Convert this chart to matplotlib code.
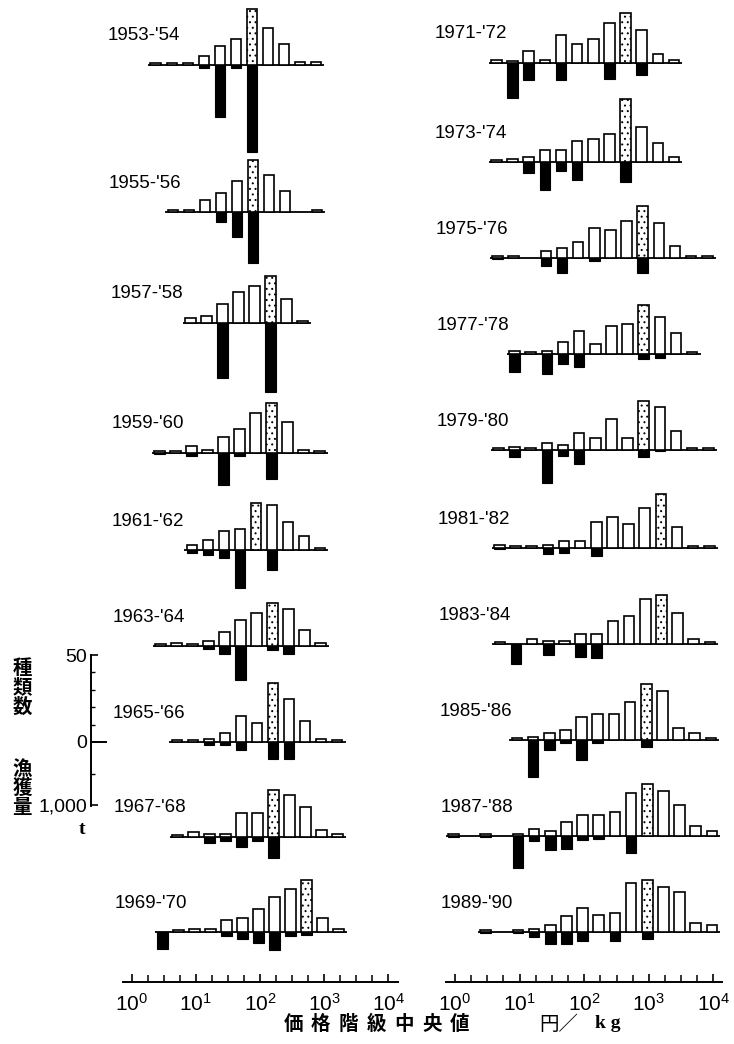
import matplotlib
matplotlib.use("Agg")
import matplotlib.pyplot as plt
from matplotlib.ticker import FixedLocator, NullFormatter, LogFormatterSciNotation

plt.rcParams['font.family'] = ['Liberation Sans', 'DejaVu Sans']
plt.rcParams['mathtext.fontset'] = 'custom'
plt.rcParams['mathtext.rm'] = 'Liberation Sans'
plt.rcParams['mathtext.it'] = 'Liberation Sans'
plt.rcParams['hatch.linewidth'] = 0.7
plt.rcParams['hatch.color'] = 'black'

# ---------------- data ----------------
periods = ["1953-'54", "1955-'56", "1957-'58", "1959-'60", "1961-'62", "1963-'64",
           "1965-'66", "1967-'68", "1969-'70",
           "1971-'72", "1973-'74", "1975-'76", "1977-'78", "1979-'80", "1981-'82",
           "1983-'84", "1985-'86", "1987-'88", "1989-'90"]

# price class k has centre 10**(0.125 + 0.25*k) yen/kg (quarter-decade classes)
first_class = [1, 2, 3, 1, 3, 1, 2, 2, 1,
               2, 2, 2, 3, 2, 2, 2, 3, -1, 1]

# number of species per price class (upper bars)
species = [
    [1, 1, 1, 5, 11, 15, 32, 21, 12, 2, 2],
    [1, 1, 7, 11, 18, 30, 21, 12, 0, 1],
    [3, 4, 11, 18, 21, 27, 14, 1],
    [1, 1, 4, 2, 9, 14, 23, 29, 18, 2, 1],
    [3, 6, 11, 12, 27, 26, 16, 8, 1],
    [1, 2, 1, 3, 8, 15, 19, 25, 21, 9, 2],
    [1, 1, 2, 5, 15, 11, 34, 25, 12, 2, 1],
    [1, 3, 2, 2, 14, 14, 27, 24, 17, 4, 2],
    [0, 1, 2, 2, 7, 8, 13, 20, 25, 30, 8, 2],
    [2, 1, 7, 2, 16, 11, 14, 23, 29, 19, 5, 2],
    [1, 2, 3, 7, 7, 12, 13, 16, 36, 20, 11, 3],
    [1, 1, 0, 4, 6, 9, 17, 16, 21, 30, 20, 7, 1, 1],
    [2, 1, 2, 7, 13, 6, 16, 17, 28, 21, 12, 1],
    [1, 2, 1, 4, 3, 10, 7, 18, 7, 28, 25, 11, 1, 1],
    [2, 1, 1, 2, 4, 4, 15, 18, 14, 23, 31, 12, 1, 1],
    [1, 0, 3, 2, 2, 6, 6, 13, 16, 26, 28, 18, 3, 1],
    [1, 2, 4, 6, 13, 15, 15, 22, 32, 28, 7, 4, 1],
    [1, 0, 1, 0, 1, 4, 3, 8, 12, 12, 14, 25, 30, 26, 18, 6, 3],
    [1, 0, 1, 2, 4, 9, 14, 10, 11, 28, 30, 26, 23, 5, 4],
]

# catch (t) per price class (lower black bars)
catch_t = [
    [0, 0, 0, 50, 820, 50, 1380, 0, 0, 0, 0],
    [0, 0, 0, 160, 400, 810, 0, 0, 0, 0],
    [0, 0, 875, 0, 0, 1090, 0, 0],
    [10, 0, 50, 0, 500, 40, 0, 410, 0, 0, 0],
    [50, 80, 130, 610, 0, 320, 0, 0, 0],
    [0, 0, 0, 50, 120, 540, 0, 65, 120, 0, 0],
    [0, 0, 50, 50, 120, 0, 265, 265, 0, 0, 0],
    [0, 0, 90, 70, 160, 70, 340, 0, 0, 0, 0],
    [275, 0, 0, 0, 70, 105, 175, 280, 70, 55, 0, 0],
    [0, 550, 275, 0, 265, 0, 0, 250, 0, 195, 0, 0],
    [0, 0, 170, 450, 145, 290, 0, 0, 320, 0, 0, 0],
    [10, 0, 0, 120, 240, 0, 50, 0, 0, 240, 0, 0, 0, 0],
    [280, 0, 320, 160, 210, 0, 0, 0, 80, 70, 0, 0],
    [0, 105, 0, 520, 95, 230, 0, 0, 0, 115, 20, 0, 0, 0],
    [20, 0, 0, 90, 80, 0, 125, 0, 0, 0, 0, 0, 0, 0],
    [0, 320, 0, 175, 0, 210, 230, 0, 0, 0, 0, 0, 0, 0],
    [0, 590, 160, 50, 320, 50, 0, 0, 105, 0, 0, 0, 0],
    [10, 0, 10, 0, 500, 85, 220, 200, 70, 50, 0, 270, 0, 0, 0, 0, 0],
    [10, 0, 10, 80, 185, 185, 135, 0, 135, 0, 105, 0, 0, 0, 0],
]

# price class holding the dotted (median) bar
dotted_class = [7, 7, 8, 8, 7, 8, 8, 8, 10,
                10, 10, 11, 11, 11, 12, 12, 11, 11, 11]

axis_ticks = [1, 10, 100, 1000, 10000]
xlabel_main = "価格階級中央値"
xlabel_unit = "円／"
xlabel_unit2 = "k g"

# ---------------- layout (pixels) ----------------
W, H = 734, 1044
fig = plt.figure(figsize=(W / 100, H / 100), dpi=100)
fig.patch.set_facecolor('white')

SP_PX = 1.74     # px per species
CT_PX = 0.063    # px per tonne
HALF_W = 0.082   # half bar width (decades)

col_cfg = [  # px of 10^0, px per decade, panel axes x-range, bottom axis range, label x
    dict(p0=131.7, dec=64.15, ax0=100, ax1=400, bx0=123, bx1=398, lx=108),
    dict(p0=455.0, dec=64.6, ax0=420, ax1=732, bx0=446, bx1=722, lx=434),
]
column = [0] * 9 + [1] * 10
baseline = [65, 212, 323, 453, 550, 646, 742, 837, 932,
            63, 162, 258, 354, 450, 548, 644, 740, 836, 932]
shift_px = [0, 1, 2.5, 3.5, 4, 4.5, 5, 5.5, 6.5,
            1, 1, 2, 3, 3, 4, 4.5, 5.5, 6.5, 6.5]


def px_axes(x0, y0, x1, y1):
    return fig.add_axes([x0 / W, 1 - y1 / H, (x1 - x0) / W, (y1 - y0) / H])


def xlim_for(cfg, x0, x1):
    return 10 ** ((x0 - cfg['p0']) / cfg['dec']), 10 ** ((x1 - cfg['p0']) / cfg['dec'])


LW = 1.2
for i, per in enumerate(periods):
    cfg = col_cfg[column[i]]
    b = baseline[i]
    s = shift_px[i]
    ax = px_axes(cfg['ax0'] + s, b - 100, cfg['ax1'] + s, b + 100)
    ax.set_xscale('log')
    ax.set_xlim(*xlim_for(cfg, cfg['ax0'], cfg['ax1']))
    ax.set_ylim(-100, 100)
    ax.axis('off')
    ax.patch.set_alpha(0)
    ks = [first_class[i] + j for j in range(len(species[i]))]
    centres = [0.125 + 0.25 * k for k in ks]
    # baseline
    ax.plot([10 ** (centres[0] - 0.12), 10 ** (centres[-1] + 0.13)], [0, 0],
            color='black', lw=1.3, solid_capstyle='butt', zorder=1)
    for k, c, sp, ct in zip(ks, centres, species[i], catch_t[i]):
        left = 10 ** (c - HALF_W)
        width = 10 ** (c + HALF_W) - left
        if ct > 0:
            ax.bar(left, -ct * CT_PX, width=width, align='edge', color='black',
                   edgecolor='black', lw=0.8, zorder=2)
        if sp > 0:
            dotted = (k == dotted_class[i])
            ax.bar(left, sp * SP_PX, width=width, align='edge', facecolor='white',
                   edgecolor='black', lw=LW, hatch='...' if dotted else None, zorder=3)
    fig.text((cfg['lx'] + s) / W, 1 - (b - 29) / H, per, fontsize=13.5,
             ha='left', va='center')

# bottom price axes
for cfg in col_cfg:
    bax = px_axes(cfg['bx0'], 940, cfg['bx1'], 982)
    bax.set_xscale('log')
    bax.set_xlim(*xlim_for(cfg, cfg['bx0'], cfg['bx1']))
    bax.patch.set_alpha(0)
    for sname in ['top', 'left', 'right']:
        bax.spines[sname].set_visible(False)
    bax.spines['bottom'].set_linewidth(1.4)
    bax.set_yticks([])
    bax.xaxis.set_major_locator(FixedLocator(axis_ticks))
    minors = [10 ** (q / 4) for q in range(0, 17) if q % 4 != 0]
    bax.xaxis.set_minor_locator(FixedLocator(minors))
    bax.xaxis.set_minor_formatter(NullFormatter())
    bax.xaxis.set_major_formatter(LogFormatterSciNotation())
    bax.tick_params(axis='x', which='major', direction='in', length=6, width=1.2,
                    labelsize=15, pad=8)
    bax.tick_params(axis='x', which='minor', direction='in', length=5, width=1.1)

# x label
cjk = ['Noto Sans CJK JP', 'DejaVu Sans']
for j, ch in enumerate(xlabel_main):
    fig.text((293 + 27.8 * j) / W, 1 - 1024 / H, ch, fontsize=14, fontweight='bold',
             family=cjk, ha='center', va='center')
fig.text(559 / W, 1 - 1024 / H, xlabel_unit, fontsize=14, family=cjk,
         ha='center', va='center')
fig.text(608 / W, 1 - 1024 / H, xlabel_unit2, fontsize=14, fontweight='bold',
         family=['Liberation Serif'], ha='center', va='center')

# scale bar (species up, catch down)
sax = px_axes(91, 655, 110, 806)
sax.set_xlim(0, 1)
sax.set_ylim(-1000 * CT_PX - 1, 50 * SP_PX + 0.0)
sax.patch.set_alpha(0)
for sname in ['top', 'bottom', 'right']:
    sax.spines[sname].set_visible(False)
sax.spines['left'].set_linewidth(1.4)
sax.set_xticks([])
sax.set_yticks([50 * SP_PX, 0, -1000 * CT_PX])
sax.set_yticklabels(['50', '0', '1,000'])
sax.set_yticks([v * SP_PX for v in (10, 20, 30, 40)] + [-500 * CT_PX], minor=True)
sax.tick_params(axis='y', which='major', direction='in', length=5, width=1.2,
                labelsize=14, pad=3)
sax.tick_params(axis='y', which='minor', direction='in', length=3, width=1.0)
sax.plot([0, 0.8], [0, 0], color='black', lw=1.4, clip_on=False)

fig.text(82 / W, 1 - 829 / H, 't', fontsize=14, family=['Liberation Serif'],
         fontweight='bold', ha='center', va='center')
fig.text(22 / W, 1 - 688 / H, "種\n類\n数", fontsize=14, family=cjk, fontweight='bold',
         ha='center', va='center', linespacing=1.0)
fig.text(22 / W, 1 - 788 / H, "漁\n獲\n量", fontsize=14, family=cjk, fontweight='bold',
         ha='center', va='center', linespacing=1.0)

fig.savefig('out.png', dpi=100, facecolor='white')
